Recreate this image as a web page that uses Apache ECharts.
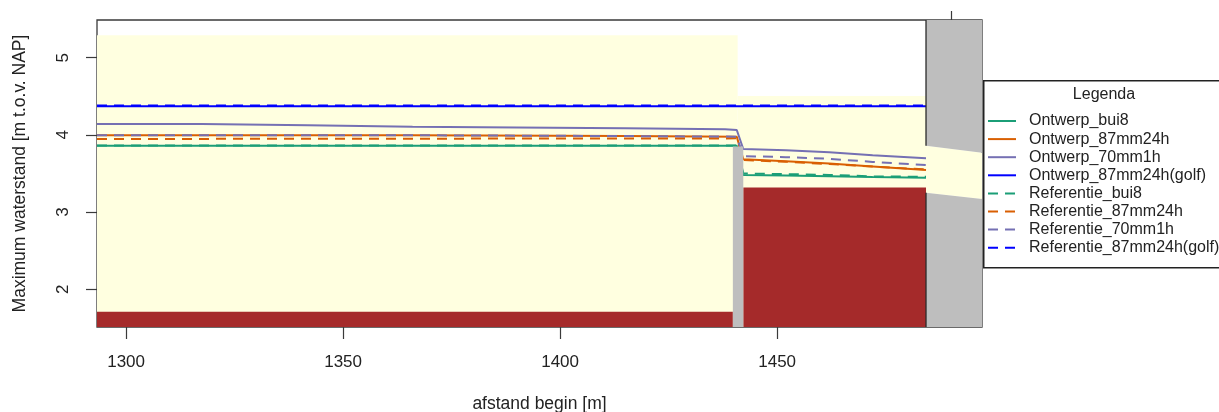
<!DOCTYPE html>
<html>
<head>
<meta charset="utf-8">
<script src="https://cdn.jsdelivr.net/npm/echarts@6/dist/echarts.min.js"></script>
<style>
html,body{margin:0;padding:0;background:#fff;}
#c{width:1219px;height:412px;}
</style>
</head>
<body>
<div id="c"></div>
<script>
// ---- axis ticks ----
const xTicks = [1300, 1350, 1400, 1450];
const yTicks = [2, 3, 4, 5];
const xRange = [1293.3, 1497.2];
const yRange = [1.512, 5.488];
const topTickX = [1490.1];

// ---- water level series (afstand, waterstand) ----
const ontwerpBui8 = [[1293.3,3.860],[1440.7,3.860],[1442.2,3.480],[1452,3.475],[1462,3.465],[1472,3.455],[1484.3,3.446]];
const ontwerp87mm24h = [[1293.3,3.995],[1366,3.995],[1366,3.985],[1415,3.985],[1415,3.977],[1440.7,3.977],[1442.2,3.684],[1452,3.660],[1462,3.628],[1472,3.592],[1484.3,3.545]];
const ontwerp70mm1h = [[1293.3,4.141],[1317.4,4.141],[1317.4,4.124],[1341.9,4.124],[1341.9,4.106],[1366,4.106],[1366,4.095],[1390,4.095],[1390,4.085],[1415,4.085],[1415,4.072],[1438,4.072],[1438,4.063],[1440.7,4.063],[1442.2,3.817],[1452,3.800],[1462,3.775],[1472,3.735],[1484.3,3.697]];
const ontwerp87mm24hGolf = [[1293.3,4.370],[1484.3,4.370]];
const referentieBui8 = [[1293.3,3.862],[1440.7,3.862],[1442.2,3.500],[1452,3.492],[1462,3.482],[1472,3.462],[1484.3,3.458]];
const referentie87mm24h = [[1293.3,3.947],[1440.7,3.955],[1442.2,3.675],[1452,3.652],[1462,3.622],[1472,3.590],[1484.3,3.552]];
const referentie70mm1h = [[1293.3,3.995],[1366,3.995],[1366,3.985],[1415,3.985],[1415,3.977],[1440.7,3.977],[1442.2,3.725],[1452,3.712],[1462,3.690],[1472,3.650],[1484.3,3.610]];
const referentie87mm24hGolf = [[1293.3,4.378],[1484.3,4.378]];

// ---- profile areas (afstand, hoogte) ----
const waterArea = [
  [[1290,1.4],[1440.9,1.4],[1440.9,5.29],[1290,5.29]],
  [[1440.9,1.4],[1484.3,1.4],[1484.3,4.504],[1440.9,4.504]],
  [[1484.3,3.251],[1497.2,3.170],[1497.2,3.769],[1484.3,3.860]]
];
const bedArea = [
  [[1290,1.4],[1439.8,1.4],[1439.8,1.71],[1290,1.71]],
  [[1442.2,1.4],[1484.3,1.4],[1484.3,3.32],[1442.2,3.32]]
];
const structureArea = [
  [[1439.8,1.4],[1442.2,1.4],[1442.2,3.85],[1439.8,3.85]],
  [[1484.3,1.4],[1497.2,1.4],[1497.2,3.170],[1484.3,3.251]],
  [[1484.3,5.6],[1497.2,5.6],[1497.2,3.769],[1484.3,3.860]]
];
const structureEdges = [
  [[1484.3,5.6],[1484.3,3.860]],
  [[1484.3,3.251],[1484.3,1.4]]
];

const legendNames = ['Ontwerp_bui8','Ontwerp_87mm24h','Ontwerp_70mm1h','Ontwerp_87mm24h(golf)',
  'Referentie_bui8','Referentie_87mm24h','Referentie_70mm1h','Referentie_87mm24h(golf)'];

const FONT = '"Liberation Sans", Arial, sans-serif';
const DASH = [10, 7];

function polySeries(name, polys, color, z) {
  return {
    type: 'custom', name: name, coordinateSystem: 'cartesian2d', z: z, silent: true, clip: true,
    data: polys.map(p => [p[0][0], p[0][1]]),
    renderItem: function (params, api) {
      const pts = polys[params.dataIndex].map(pt => api.coord(pt));
      return { type: 'polygon', shape: { points: pts }, style: { fill: color, stroke: null } };
    }
  };
}
function edgeSeries(name, segs, color, z) {
  return {
    type: 'custom', name: name, coordinateSystem: 'cartesian2d', z: z, silent: true, clip: true,
    data: segs.map(p => [p[0][0], p[0][1]]),
    renderItem: function (params, api) {
      const pts = segs[params.dataIndex].map(pt => api.coord(pt));
      return { type: 'polyline', shape: { points: pts }, style: { stroke: color, lineWidth: 1.3, fill: null } };
    }
  };
}
function lineSeries(name, data, color, dashed, width) {
  return {
    type: 'line', name: name, data: data, z: 3, showSymbol: false, symbol: 'none',
    animation: false, silent: true, clip: true,
    lineStyle: { color: color, width: width || 2, type: dashed ? DASH : 'solid' },
    itemStyle: { color: color }
  };
}
const plain = v => String(v);

const chart = echarts.init(document.getElementById('c'), null, { renderer: 'canvas' });
chart.setOption({
  animation: false,
  backgroundColor: '#ffffff',
  textStyle: { fontFamily: FONT },
  grid: { left: 97, right: 237, top: 20, bottom: 85, show: true, borderColor: '#3a3a3a', borderWidth: 1.3,
    backgroundColor: 'transparent', containLabel: false, outerBoundsMode: 'none' },
  xAxis: [{
    type: 'value', min: xRange[0], max: xRange[1],
    name: 'afstand begin [m]', nameLocation: 'middle', nameGap: 68,
    nameTextStyle: { fontSize: 17.5, color: '#222', fontFamily: FONT },
    splitLine: { show: false }, axisLine: { show: false },
    axisTick: { show: true, length: 12, customValues: xTicks, lineStyle: { color: '#3a3a3a', width: 1.2 } },
    axisLabel: { show: true, customValues: xTicks, formatter: plain, margin: 27, fontSize: 17, color: '#222', fontFamily: FONT }
  }, {
    type: 'value', position: 'top', min: xRange[0], max: xRange[1],
    splitLine: { show: false }, axisLine: { show: false },
    axisTick: { show: true, length: 9, customValues: topTickX, lineStyle: { color: '#3a3a3a', width: 1.2 } },
    axisLabel: { show: false }
  }],
  yAxis: {
    type: 'value', min: yRange[0], max: yRange[1],
    name: 'Maximum waterstand [m t.o.v. NAP]', nameLocation: 'middle', nameGap: 68, nameRotate: 90,
    nameTextStyle: { fontSize: 17.5, color: '#222', fontFamily: FONT },
    splitLine: { show: false }, axisLine: { show: false },
    axisTick: { show: true, length: 11, customValues: yTicks, lineStyle: { color: '#3a3a3a', width: 1.2 } },
    axisLabel: { show: true, customValues: yTicks, formatter: plain, rotate: 90, margin: 25, fontSize: 17, color: '#222', fontFamily: FONT }
  },
  legend: {
    show: true, orient: 'vertical', left: 987, top: 113, padding: 0,
    itemWidth: 28, itemHeight: 14, itemGap: 2.1,
    data: legendNames,
    itemStyle: { opacity: 0 },
    textStyle: { fontSize: 16, color: '#222', fontFamily: FONT, lineHeight: 14, padding: [0, 0, 0, 8] },
    selectedMode: false
  },
  graphic: [
    { type: 'rect', left: 983, top: 80, shape: { x: 0, y: 0, width: 260, height: 187 },
      style: { fill: '#fff', stroke: '#222', lineWidth: 1.5 }, z: -1, silent: true },
    { type: 'text', x: 1104, y: 95, style: { text: 'Legenda', font: '16px ' + FONT, fill: '#222', textAlign: 'center', textVerticalAlign: 'middle' }, silent: true }
  ],
  series: [
    polySeries('water', waterArea, '#FFFFE0', 1),
    polySeries('bodem', bedArea, '#A52A2A', 2),
    lineSeries('Ontwerp_bui8', ontwerpBui8, '#1B9E77', false),
    lineSeries('Ontwerp_87mm24h', ontwerp87mm24h, '#D95F02', false),
    lineSeries('Ontwerp_70mm1h', ontwerp70mm1h, '#7570B3', false),
    lineSeries('Ontwerp_87mm24h(golf)', ontwerp87mm24hGolf, '#0000FF', false),
    lineSeries('Referentie_bui8', referentieBui8, '#1B9E77', true),
    lineSeries('Referentie_87mm24h', referentie87mm24h, '#D95F02', true),
    lineSeries('Referentie_70mm1h', referentie70mm1h, '#7570B3', true),
    lineSeries('Referentie_87mm24h(golf)', referentie87mm24hGolf, '#0000FF', true, 2.5),
    polySeries('kunstwerk', structureArea, '#BEBEBE', 4),
    edgeSeries('rand', structureEdges, '#2a2a2a', 5)
  ]
});
</script>
</body>
</html>
